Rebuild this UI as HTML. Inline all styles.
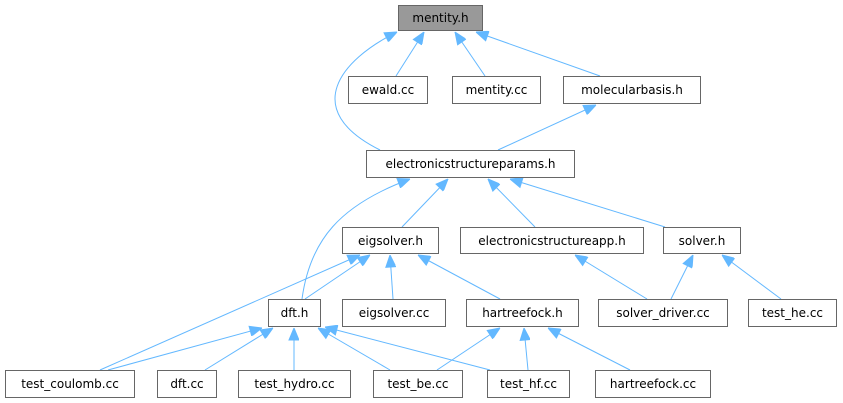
<!DOCTYPE html>
<html><head><style>
html,body{margin:0;padding:0;background:#fff;width:843px;height:403px;overflow:hidden}
svg text{font-family:"DejaVu Sans","Liberation Sans",sans-serif;font-size:12px;fill:#000}
</style></head><body>
<svg width="843" height="403" xmlns="http://www.w3.org/2000/svg">
<defs><marker id="a" markerWidth="14" markerHeight="12" refX="0" refY="5" orient="auto" markerUnits="userSpaceOnUse"><path d="M0,5 L12,0 L12,10 Z" fill="#63b8ff" stroke="#63b8ff"/></marker></defs>
<g stroke="#63b8ff" stroke-width="1" fill="none">
<path d="M397,32 C340,60 300,110 380,150" marker-start="url(#a)"/>
<path d="M424,32 L396,76" marker-start="url(#a)"/>
<path d="M455,32 L485,76" marker-start="url(#a)"/>
<path d="M476,32 L600,76" marker-start="url(#a)"/>
<path d="M596,105 L498,150" marker-start="url(#a)"/>
<path d="M410,179 C340,205 310,240 302,299" marker-start="url(#a)"/>
<path d="M448,179 L402,227" marker-start="url(#a)"/>
<path d="M488,179 L535,227" marker-start="url(#a)"/>
<path d="M510,179 L665,227" marker-start="url(#a)"/>
<path d="M360,255 L100,370" marker-start="url(#a)"/>
<path d="M370,255 L305,299" marker-start="url(#a)"/>
<path d="M390,255 L393,299" marker-start="url(#a)"/>
<path d="M418,255 L500,299" marker-start="url(#a)"/>
<path d="M575,255 L647,299" marker-start="url(#a)"/>
<path d="M693,255 L671,299" marker-start="url(#a)"/>
<path d="M722,255 L781,299" marker-start="url(#a)"/>
<path d="M262,328 L108,370" marker-start="url(#a)"/>
<path d="M273,328 L205,370" marker-start="url(#a)"/>
<path d="M294,328 L294,370" marker-start="url(#a)"/>
<path d="M318,328 L390,370" marker-start="url(#a)"/>
<path d="M325,327 L490,370" marker-start="url(#a)"/>
<path d="M500,328 L437,370" marker-start="url(#a)"/>
<path d="M524,328 L528,370" marker-start="url(#a)"/>
<path d="M548,328 L630,370" marker-start="url(#a)"/>
</g>
<g stroke="#666" stroke-width="1" fill="#fff">
<rect x="398.5" y="5.5" width="84" height="25" fill="#999"/>
<rect x="348.5" y="76.5" width="79" height="27"/>
<rect x="452.5" y="76.5" width="88" height="27"/>
<rect x="563.5" y="76.5" width="137" height="27"/>
<rect x="366.5" y="150.5" width="208" height="27"/>
<rect x="342.5" y="227.5" width="96" height="26"/>
<rect x="460.5" y="227.5" width="183" height="26"/>
<rect x="663.5" y="227.5" width="77" height="26"/>
<rect x="268.5" y="299.5" width="52" height="27"/>
<rect x="342.5" y="299.5" width="103" height="27"/>
<rect x="466.5" y="299.5" width="112" height="27"/>
<rect x="598.5" y="299.5" width="129" height="27"/>
<rect x="748.5" y="299.5" width="88" height="27"/>
<rect x="5.5" y="370.5" width="129" height="27"/>
<rect x="157.5" y="370.5" width="59" height="27"/>
<rect x="238.5" y="370.5" width="112" height="27"/>
<rect x="373.5" y="370.5" width="89" height="27"/>
<rect x="487.5" y="370.5" width="82" height="27"/>
<rect x="595.5" y="370.5" width="115" height="27"/>
</g>
<g text-anchor="middle">
<text x="440.5" y="22">mentity.h</text>
<text x="388" y="94">ewald.cc</text>
<text x="496.5" y="94">mentity.cc</text>
<text x="632" y="94">molecularbasis.h</text>
<text x="470.5" y="168">electronicstructureparams.h</text>
<text x="390.5" y="245">eigsolver.h</text>
<text x="552" y="245">electronicstructureapp.h</text>
<text x="702" y="245">solver.h</text>
<text x="294.5" y="317">dft.h</text>
<text x="394" y="317">eigsolver.cc</text>
<text x="522.5" y="317">hartreefock.h</text>
<text x="663" y="317">solver_driver.cc</text>
<text x="792.5" y="317">test_he.cc</text>
<text x="70" y="388">test_coulomb.cc</text>
<text x="187" y="388">dft.cc</text>
<text x="294.5" y="388">test_hydro.cc</text>
<text x="418" y="388">test_be.cc</text>
<text x="528.5" y="388">test_hf.cc</text>
<text x="653" y="388">hartreefock.cc</text>
</g>
</svg>
</body></html>
